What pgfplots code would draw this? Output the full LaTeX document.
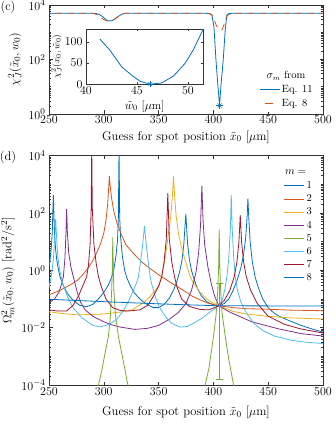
\documentclass[border=0pt]{standalone}
\usepackage{pgfplots}
\pgfplotsset{compat=1.18}
\definecolor{mlblue}{RGB}{0,114,189}
\definecolor{mlorange}{RGB}{217,83,25}
\definecolor{mlyellow}{RGB}{237,177,32}
\definecolor{mlpurple}{RGB}{126,47,142}
\definecolor{mlgreen}{RGB}{119,172,48}
\definecolor{mlcyan}{RGB}{77,190,238}
\definecolor{mlred}{RGB}{162,20,47}
% legend sample drawn in a fixed colour
\pgfplotsset{leg/.style={legend image code/.code={\draw[#1, line width=0.9pt] (0pt,0pt) -- (20pt,0pt);}}}

\begin{document}
\begin{tikzpicture}
\path[use as bounding box] (0pt,0pt) rectangle (335pt,425pt);

% ---------------- panel (c) ----------------
\begin{axis}[scale only axis, at={(49pt,311pt)}, anchor=south west,
  width=274pt, height=109pt,
  font=\fontsize{12.5}{15}\selectfont,
  axis line style={black!80, line width=0.6pt},
  tick style={black!80, line width=0.5pt},
  major tick length=3.5pt, minor tick length=2pt,
  xmin=250, xmax=500, xtick={250,300,...,500},
  xticklabel style={yshift=1.5pt},
  xlabel={Guess for spot position $\tilde{x}_0$ [$\mu$m]},
  ymode=log,
  ymin=1, ymax=1e4, ytick={1,100,10000},
  minor ytick={2,3,4,5,6,7,8,9,10,20,30,40,50,60,70,80,90,200,300,400,500,600,700,800,900,1000,2000,3000,4000,5000,6000,7000,8000,9000},
  ylabel={$\chi^2_J(\tilde{x}_0, w_0)$},
  legend cell align=left,
  legend style={draw=none, fill=white, at={(axis description cs:0.755,0.30)}, anchor=north west,
    font=\fontsize{10.5}{12}\selectfont, row sep=1pt},
]
\addplot[mlblue, line width=0.8pt, forget plot] coordinates {
(250,5000) (270,5000) (285,5000) (290,4950) (293,4850) (296,4500) (299,3700) (302,2900)
(304,2650) (306,2600) (308,2700) (311,3200) (314,4000) (317,4700) (320,4950) (325,5000)
(385,5000) (392,4980) (396,4850) (398.6,4270) (400.5,1580) (402.3,100) (404,12.6)
(405.6,2.05) (407,12.6) (409,100) (410.8,1260) (412.3,4270) (414,4800) (418,5000) (500,5000)};
\addplot[mlorange, line width=0.8pt, dash pattern=on 7pt off 5pt, dash phase=-6pt, forget plot] coordinates {
(250,5000) (288,5000) (291,4850) (294,4400) (297,3600) (300,2900) (303,2600) (306,2600)
(309,2900) (312,3500) (315,4300) (318,4800) (321,5000) (394,5000) (397,4800) (398.8,4200)
(401,2600) (403.2,1580) (407.7,1200) (409.5,1800) (411,3000) (413,4200) (415.3,4700)
(418,4950) (421,5000) (500,5000)};
\addplot[mlblue, only marks, mark=+, mark size=3.5pt, forget plot] coordinates {(405.6,2.05)};
\addplot[mlblue, only marks, mark=x, mark size=3pt, forget plot] coordinates {(405.6,2.05)};
\addlegendimage{leg={mlblue}}
\addlegendentry{Eq. 11}
\addlegendimage{legend image code/.code={\draw[mlorange, line width=0.9pt] (5pt,0pt) -- (13pt,0pt);}}
\addlegendentry{Eq. 8}
\node[font=\fontsize{10.5}{12}\selectfont] at (axis description cs:0.865,0.35) {$\sigma_m$ from};
\end{axis}

% inset
\begin{axis}[scale only axis, at={(86pt,340.7pt)}, anchor=south west,
  width=117.3pt, height=55.3pt,
  font=\fontsize{11.5}{13}\selectfont,
  axis line style={black!80, line width=0.6pt},
  tick style={black!80, line width=0.5pt},
  major tick length=2.5pt,
  axis background/.style={fill=white},
  xmin=40, xmax=51.5, ymin=0, ymax=130,
  xtick={40,45,50}, ytick={0,50,100},
  xticklabel style={yshift=1pt},
  xlabel={$\tilde{w}_0$ [$\mu$m]},
  ylabel={$\chi^2_J(x_0, \tilde{w}_0)$},
  xlabel style={yshift=1pt},
  ylabel style={yshift=-4pt, font=\fontsize{9.5}{11}\selectfont},
]
\addplot[mlblue, line width=0.8pt] coordinates {
(41.37,106) (42.35,80) (43.5,41) (44.5,21) (45.3,7) (46.27,0.3) (47.4,3) (48.56,19)
(49.7,49) (50.5,80) (51.5,130)};
\addplot[mlblue, only marks, mark=+, mark size=3pt] coordinates {(46.27,0.3)};
\addplot[mlblue, only marks, mark=x, mark size=2.5pt] coordinates {(46.27,0.3)};
\end{axis}

\node[font=\fontsize{12.5}{15}\selectfont] at (8pt,418pt) {(c)};
\node[font=\fontsize{12.5}{15}\selectfont] at (8pt,268pt) {(d)};

% ---------------- panel (d) ----------------
\begin{axis}[scale only axis, at={(49pt,40pt)}, anchor=south west,
  width=274pt, height=229.3pt,
  font=\fontsize{12.5}{15}\selectfont,
  axis line style={black!80, line width=0.6pt},
  tick style={black!80, line width=0.5pt},
  major tick length=3.5pt, minor tick length=2pt,
  xmin=250, xmax=500, xtick={250,300,...,500},
  xticklabel style={yshift=1pt},
  xlabel={Guess for spot position $\tilde{x}_0$ [$\mu$m]},
  xlabel style={yshift=-4pt},
  ymode=log,
  ymin=1e-4, ymax=1e4, ytick={1e-4,1e-2,1,1e2,1e4},
  minor ytick={2e-4,3e-4,4e-4,5e-4,6e-4,7e-4,8e-4,9e-4,1e-3,2e-3,3e-3,4e-3,5e-3,6e-3,7e-3,8e-3,9e-3,
    2e-2,3e-2,4e-2,5e-2,6e-2,7e-2,8e-2,9e-2,1e-1,2e-1,3e-1,4e-1,5e-1,6e-1,7e-1,8e-1,9e-1,
    2,3,4,5,6,7,8,9,10,20,30,40,50,60,70,80,90,200,300,400,500,600,700,800,900,1000,
    2000,3000,4000,5000,6000,7000,8000,9000},
  ylabel={$\Omega^2_m(\tilde{x}_0, w_0)$ [rad$^2$/s$^2$]},
  legend cell align=left,
  legend style={draw=none, fill=white, at={(axis description cs:0.845,0.905)}, anchor=north west,
    font=\fontsize{10.5}{12}\selectfont, row sep=0.6pt},
]
% m = 1
\addplot[mlblue, line width=0.8pt, forget plot] coordinates {
(250,1.4) (251,2.4) (252,5.5) (253,22) (253.6,150) (254,430) (254.5,90) (255,22) (256,5.5)
(257,2.5) (258,1.4) (260,0.6) (263,0.3) (267,0.15) (272,0.09) (278,0.06) (284,0.054)
(290,0.065) (295,0.1) (300,0.17) (304,0.3) (307,0.55) (309,1.0) (311,3) (312.5,11)
(313.3,70) (313.9,20000) (314.5,70) (315.3,15) (317,3) (319,1.0) (321,0.55) (324,0.3)
(328,0.16) (333,0.1) (338,0.07) (345,0.05) (350,0.05) (355,0.065) (360,0.11) (364,0.22)
(367,0.45) (369.5,1.0) (371.5,2.5) (373,8) (374.2,40) (374.8,93) (375.4,40) (376.5,8)
(378,2.5) (380,1.0) (382,0.55) (385,0.25) (389,0.13) (394,0.08) (400,0.062) (405,0.058)
(410,0.07) (414,0.1) (418,0.2) (422,0.5) (425,1.2) (427.5,3.5) (429.5,14) (430.8,80)
(431.5,320) (432.2,80) (433.5,10) (435.5,2) (438,0.6) (441,0.25) (445,0.1) (450,0.05)
(455,0.033) (460,0.025) (470,0.017) (480,0.012) (490,0.009) (500,0.007)};
% m = 2
\addplot[mlorange, line width=0.8pt, forget plot] coordinates {
(250,0.14) (260,0.2) (270,0.32) (276,0.45) (280,0.65) (285,1.1) (290,2.2) (294,4.5)
(297,8.5) (300,20) (302,55) (303.5,200) (304.5,800) (305.1,1950) (305.8,900) (307,350)
(309,120) (312,45) (316,18) (320,8) (327,3.9) (335,1.9) (342,1.17) (350,0.7) (357.5,0.46)
(365,0.3) (372.7,0.2) (380,0.13) (388,0.093) (395,0.072) (405,0.058) (418,0.05) (430,0.046)
(449,0.044) (470,0.041) (500,0.039)};
% m = 3
\addplot[mlyellow, line width=0.8pt, forget plot] coordinates {
(250,0.036) (262,0.031) (277,0.028) (290,0.029) (300,0.03) (315,0.035) (326,0.042) (335,0.07)
(342,0.12) (347,0.2) (350.5,0.3) (353,0.7) (355,1.6) (357,5) (359,19.5) (361,70) (362.5,350)
(363.6,1950) (364.7,350) (366,80) (368.1,19.5) (371,6) (374.2,2.3) (378.8,0.6) (382,0.35)
(388,0.17) (394,0.1) (400,0.072) (405,0.058) (418,0.037) (430,0.03) (449,0.025) (470,0.022)
(500,0.02)};
% m = 4
\addplot[mlpurple, line width=0.8pt, forget plot] coordinates {
(250,0.075) (255,0.1) (259,0.17) (261.5,0.33) (263.1,0.6) (264.5,2.5) (265.5,20) (266.1,138)
(266.8,20) (268,4) (270,1.3) (272.2,0.6) (276,0.16) (279,0.075) (282.9,0.042) (290,0.025)
(300,0.016) (307,0.0126) (315,0.0105) (328.6,0.0087) (340,0.0095) (350,0.012) (360,0.02)
(368,0.034) (375,0.07) (380,0.2) (384,0.8) (386.5,4) (388.3,40) (389.5,890) (390.5,60)
(392,8) (395,1.3) (398,0.35) (401,0.13) (405,0.058) (415,0.035) (424.5,0.024) (435,0.016)
(445.8,0.0125) (460,0.009) (480,0.0062) (500,0.0051)};
% m = 5
\addplot[mlgreen, line width=0.8pt, forget plot] coordinates {
(294,5e-5) (295.1,1e-4) (298,3e-4) (301,1.2e-3) (304.2,5e-3) (306,0.025) (307.2,0.2)
(307.8,1.5) (308.2,14) (308.6,1.5) (309.2,0.2) (310.5,0.03) (313.3,5e-3) (316,1.5e-3)
(319,4e-4) (321,1.5e-4) (323,7e-5)};
\addplot[mlgreen, line width=0.8pt, forget plot] coordinates {
(391,5e-5) (392.5,1e-4) (396,4e-4) (400.1,5e-3) (402.5,0.03) (404,0.2) (404.8,1.5)
(405.3,27) (405.8,1.5) (406.6,0.2) (408,0.03) (410.8,5e-3) (414,8e-4) (418.4,1e-4) (420,5e-5)};
% m = 6
\addplot[mlcyan, line width=0.8pt, forget plot] coordinates {
(250,0.25) (252,0.6) (254,2.5) (255.3,15) (256.1,62) (256.9,15) (258,3) (260,0.9) (263,0.3)
(267,0.12) (272,0.05) (280,0.022) (290,0.012) (296.6,0.0107) (305,0.013) (312,0.02)
(318,0.04) (323,0.09) (327,0.2) (330,0.38) (331.6,0.6) (333.5,2) (335.5,8) (336.6,22)
(337.1,35) (337.6,22) (338.7,8) (340.5,2) (342.3,0.6) (344,0.3) (347,0.12) (351,0.05)
(356,0.025) (362,0.014) (369.7,0.0105) (376,0.011) (383,0.015) (390,0.022) (396,0.033)
(401,0.045) (405,0.058) (408,0.09) (410.5,0.22) (412.3,0.6) (414,2.5) (415.5,30)
(416.3,430) (417.1,30) (418.5,3) (419.9,0.6) (422,0.2) (425,0.08) (430,0.033) (437,0.014)
(445,0.008) (455,0.0052) (470,0.0037) (485,0.0031) (500,0.0028)};
% m = 7
\addplot[mlred, line width=0.8pt, forget plot] coordinates {
(250,0.042) (258,0.038) (266,0.038) (272,0.06) (277,0.13) (281,0.3) (284.4,0.6) (286,1.5)
(287.5,8) (288.5,150) (289,20000) (289.5,150) (291,8) (293,1.8) (295.1,0.6) (298,0.25)
(302,0.1) (308,0.05) (315,0.04) (322,0.038) (333,0.042) (340,0.06) (345,0.12) (350,0.28)
(352.9,0.6) (355,2) (357,12) (358.4,490) (359.8,12) (362,2) (364.5,0.6) (367,0.25)
(371,0.1) (378,0.055) (388,0.043) (396,0.042) (405,0.058) (410,0.09) (415,0.2) (419,0.6)
(421.5,2) (423.3,10) (424.5,85) (425.7,10) (427.5,2) (430,0.6) (434,0.2) (440,0.07)
(450,0.025) (465,0.013) (480,0.009) (500,0.0065)};
% m = 8
\addplot[mlblue, line width=0.8pt, forget plot] coordinates {
(250,0.098) (275,0.089) (300,0.081) (325,0.074) (350,0.068) (375,0.063) (405,0.058)
(450,0.0575) (500,0.057)};
% error bar at the true position
\addplot[mlgreen, line width=0.8pt, mark=-, mark size=3.5pt, forget plot] coordinates {
(405.3,1.6e-4) (405.3,0.35)};
\addlegendimage{leg={mlblue}}\addlegendentry{1}
\addlegendimage{leg={mlorange}}\addlegendentry{2}
\addlegendimage{leg={mlyellow}}\addlegendentry{3}
\addlegendimage{leg={mlpurple}}\addlegendentry{4}
\addlegendimage{leg={mlgreen}}\addlegendentry{5}
\addlegendimage{leg={mlcyan}}\addlegendentry{6}
\addlegendimage{leg={mlred}}\addlegendentry{7}
\addlegendimage{leg={mlblue}}\addlegendentry{8}
\node[font=\fontsize{10.5}{12}\selectfont] at (axis description cs:0.9,0.93) {$m=$};
\end{axis}
\end{tikzpicture}
\end{document}
